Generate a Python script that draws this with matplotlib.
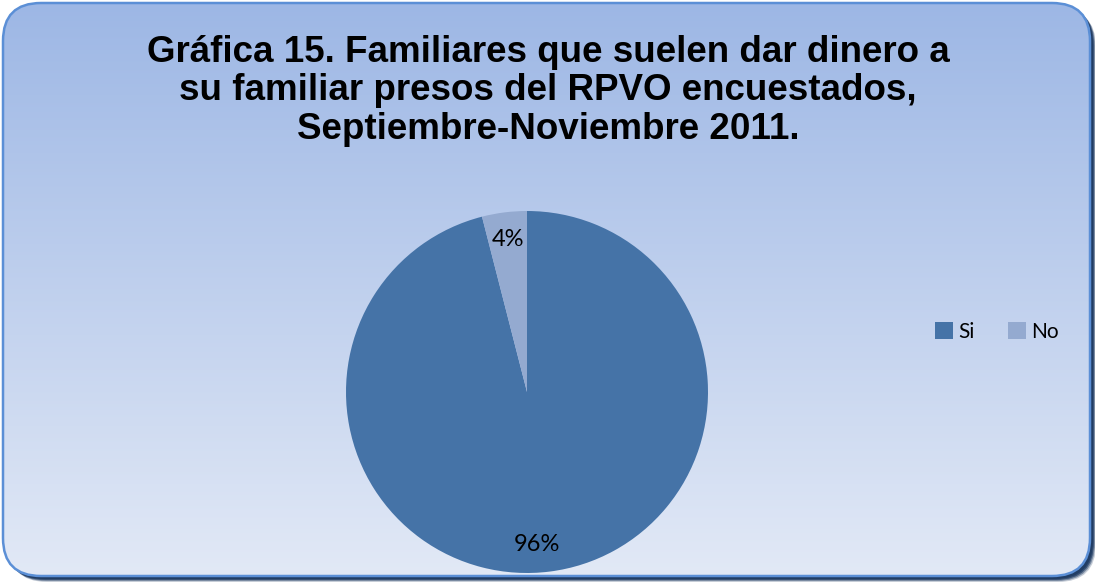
import matplotlib
matplotlib.use("Agg")
import matplotlib.pyplot as plt
import numpy as np
from matplotlib.patches import FancyBboxPatch, Patch

categories = ["Si", "No"]
values = [96, 4]
colors = ["#4573a7", "#94aad0"]
title = "Gráfica 15. Familiares que suelen dar dinero a\nsu familiar presos del RPVO encuestados,\nSeptiembre-Noviembre 2011."

W, H = 1095, 587
fig = plt.figure(figsize=(W / 100, H / 100), dpi=100)
fig.patch.set_facecolor("white")

bg = fig.add_axes([0, 0, 1, 1])
bg.set_xlim(0, W)
bg.set_ylim(H, 0)
bg.axis("off")

# shadow
for off, a in [(6, 0.25), (5, 0.45), (4, 0.7), (3, 0.9)]:
    sh = FancyBboxPatch((3 + off, 3 + off), 1087, 573, boxstyle="round,pad=0,rounding_size=38",
                        facecolor="#1f3b63", edgecolor="none", alpha=a, zorder=1)
    bg.add_patch(sh)

box = FancyBboxPatch((3, 3), 1087, 573, boxstyle="round,pad=0,rounding_size=38",
                     facecolor="none", edgecolor="#5b8fd6", linewidth=1.8, zorder=4)
bg.add_patch(box)
grad = np.linspace(0, 1, 256).reshape(-1, 1)
top = np.array([0x9d, 0xb7, 0xe5]) / 255
bot = np.array([0xe2, 0xe9, 0xf6]) / 255
img = top + (bot - top) * grad[..., None]
im = bg.imshow(img, extent=[3, 1090, 576, 3], aspect="auto", zorder=2)
clip = FancyBboxPatch((3, 3), 1087, 573, boxstyle="round,pad=0,rounding_size=38",
                      facecolor="none", edgecolor="none", transform=bg.transData)
bg.add_patch(clip)
im.set_clip_path(clip)
bg.set_xlim(0, W)
bg.set_ylim(H, 0)

fig.text(548 / W, 1 - 91 / H, title, ha="center", va="center", fontsize=26.5,
         fontweight="bold", family="Liberation Sans", color="black", linespacing=1.12)

cx, cy, r = 527, 392, 181
ax = fig.add_axes([(cx - r) / W, (H - cy - r) / H, 2 * r / W, 2 * r / H])
ax.set_facecolor("none")
wedges, texts, autotexts = ax.pie(values, colors=colors, startangle=90, counterclock=False,
                                  autopct="%1.0f%%", pctdistance=0.85,
                                  wedgeprops=dict(edgecolor="none"),
                                  textprops=dict(fontsize=17, family="Lato", color="black"))
autotexts[0].set_x(autotexts[0].get_position()[0] - 0.05)
ax.set_aspect("auto")
ax.set_xlim(-1, 1)
ax.set_ylim(-1, 1)

handles = [Patch(facecolor=c, edgecolor="none") for c in colors]
fig.legend(handles, categories, loc="center", bbox_to_anchor=(997 / W, 1 - 332 / H), ncol=2,
           frameon=False, prop=dict(family="Lato", size=15), handlelength=0.85, handleheight=0.85,
           handletextpad=0.25, columnspacing=1.6)

fig.savefig("out.png", dpi=100)
